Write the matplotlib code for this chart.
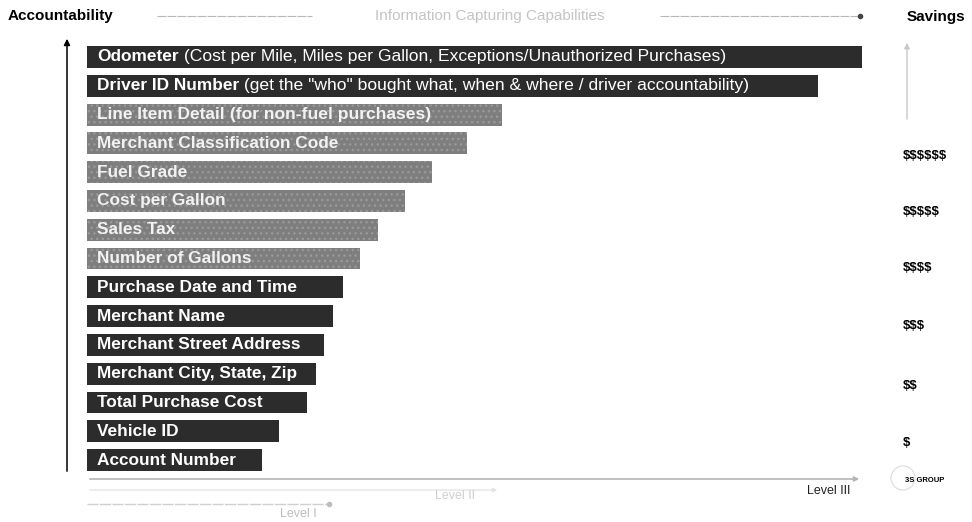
import matplotlib.pyplot as plt

plt.rcParams['font.family'] = ['Liberation Sans', 'DejaVu Sans']
plt.rcParams['text.parse_math'] = False

# Datos: campos capturados (de arriba hacia abajo) y longitud de cada barra
campos = ['Odometer', 'Driver ID Number', 'Line Item Detail', 'Merchant Classification Code',
          'Fuel Grade', 'Cost per Gallon', 'Sales Tax', 'Number of Gallons',
          'Purchase Date and Time', 'Merchant Name', 'Merchant Street Address',
          'Merchant City, State, Zip', 'Total Purchase Cost', 'Vehicle ID', 'Account Number']
detalles = [' (Cost per Mile, Miles per Gallon, Exceptions/Unauthorized Purchases)',
            ' (get the "who" bought what, when & where / driver accountability)',
            ' (for non-fuel purchases)', '', '', '', '', '', '', '', '', '', '', '', '']
longitud = [775, 731, 415, 380, 345, 318, 291, 273, 256, 246, 237, 229, 220, 192, 175]
nivel = ['III', 'III', 'II', 'II', 'II', 'II', 'II', 'II', 'I', 'I', 'I', 'I', 'I', 'I', 'I']
ahorro = ['$$$$$$', '$$$$$', '$$$$', '$$$', '$$', '$']

fig = plt.figure(figsize=(9.72, 5.22), dpi=100)
fondo = fig.add_axes([0, 0, 1, 1])
fondo.set_xlim(0, 972)
fondo.set_ylim(522, 0)
fondo.axis('off')

# Barras (eje en pixeles: x 87..870, y 40..475)
ax = fig.add_axes([87 / 972, 47 / 522, 783 / 972, 435 / 522])
ax.set_xlim(0, 783)
ax.set_ylim(14.52, -0.59)
ax.axis('off')

for i, (campo, det, lon, nv) in enumerate(zip(campos, detalles, longitud, nivel)):
    if nv == 'II':
        ax.barh(i, lon, height=0.76, left=0, color='#7e7e7e', hatch='...',
                edgecolor='#999999', linewidth=0)
        col_txt = '#f2f2f2'
    else:
        ax.barh(i, lon, height=0.76, left=0, color='#2c2c2c', linewidth=0)
        col_txt = 'white'
    t = ax.text(10, i, campo, color=col_txt, fontsize=12.4, fontweight='bold',
                va='center', ha='left')
    if det:
        ax.annotate(det, xy=(1, 0.5), xycoords=t, va='center', ha='left',
                    color=col_txt, fontsize=12.6,
                    fontweight='bold' if nv == 'II' else 'normal')

# Encabezados
fondo.text(8, 16, 'Accountability', fontsize=11, fontweight='bold', va='center', ha='left')
fondo.text(490, 16, 'Information Capturing Capabilities', fontsize=11, color='#c4c4c4',
           va='center', ha='center')
fondo.text(965, 17, 'Savings', fontsize=11, fontweight='bold', va='center', ha='right')
fondo.plot([157, 312], [16, 16], color='#b8b8b8', lw=0.8, ls=(0, (8, 1)))
fondo.plot([660, 858], [16, 16], color='#b8b8b8', lw=0.8, ls=(0, (8, 1)))
fondo.plot([860], [16], marker='o', ms=3, color='#444444')

# Flecha vertical izquierda (accountability)
fondo.annotate('', xy=(67, 36), xytext=(67, 474),
               arrowprops=dict(arrowstyle='-|>', color='black', lw=1.1, mutation_scale=9))

# Flecha vertical derecha (savings)
fondo.annotate('', xy=(907, 40), xytext=(907, 122),
               arrowprops=dict(arrowstyle='-|>', color='#c8c8c8', lw=1.0, mutation_scale=8))
ys_ahorro = [156, 212, 268, 326, 386, 443]
for y, s in zip(ys_ahorro, ahorro):
    fondo.text(903, y, s, fontsize=9.5, fontweight='bold', va='center', ha='left')

# Niveles inferiores
fondo.annotate('', xy=(862, 479), xytext=(87, 479),
               arrowprops=dict(arrowstyle='-|>', color='#b5b5b5', lw=1.2, mutation_scale=7))
fondo.text(850, 491, 'Level III', fontsize=9, color='#222222', va='center', ha='right')
fondo.annotate('', xy=(500, 490), xytext=(87, 490),
               arrowprops=dict(arrowstyle='-|>', color='#e2e2e2', lw=0.9, mutation_scale=6))
fondo.text(455, 496, 'Level II', fontsize=9, color='#d0d0d0', va='center', ha='center')
fondo.plot([87, 328], [504, 504], color='#cfcfcf', lw=1.0, ls=(0, (8, 1)))
fondo.plot([329], [504], marker='o', ms=3, color='#bdbdbd')
fondo.text(298, 514, 'Level I', fontsize=9, color='#bdbdbd', va='center', ha='center')

# Logo aproximado
fondo.add_patch(plt.Circle((903, 478), 12, fill=False, ec='#dcdcdc', lw=0.8))
fondo.text(925, 480, '3S GROUP', fontsize=5.5, fontweight='bold', va='center', ha='center')

fig.savefig('out.png', dpi=100)
